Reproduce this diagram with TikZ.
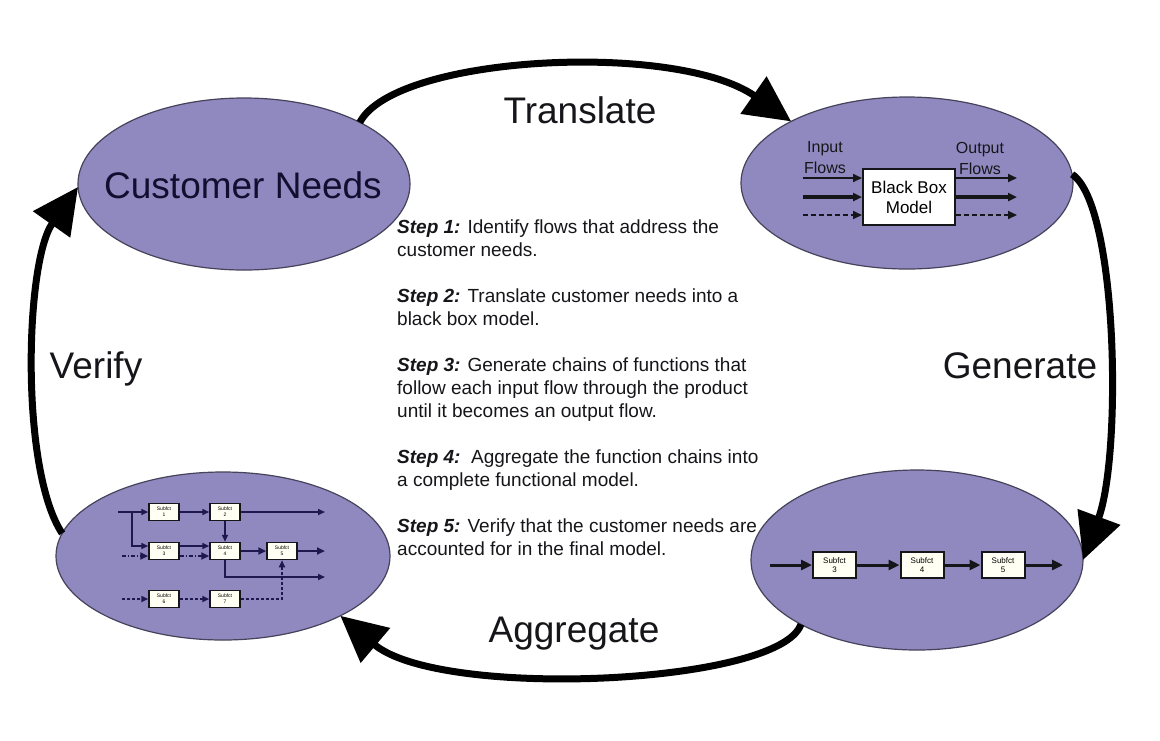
\documentclass[tikz,border=0pt]{standalone}
\usepackage{fontspec}
\setmainfont{Liberation Sans}
\usetikzlibrary{arrows.meta,shapes.geometric}
\definecolor{bubblefill}{RGB}{144,137,192}
\definecolor{bubbleline}{RGB}{70,66,90}
\definecolor{ink}{RGB}{22,22,26}
\definecolor{navy}{RGB}{30,24,80}
\definecolor{boxfill}{RGB}{255,255,244}

\begin{document}
\begin{tikzpicture}[x=1pt,y=-1pt,
  bubble/.style={ellipse, draw=bubbleline, line width=1.2pt, fill=bubblefill,
    inner sep=0pt, outer sep=0pt},
  cyclearrow/.style={line width=7pt, draw=black, -{Triangle[length=46pt,width=44pt]}},
  biglabel/.style={font=\fontsize{37}{44}\selectfont, text=ink, inner sep=0pt, anchor=base},
  steptext/.style={font=\fontsize{19}{23}\selectfont, text=ink, inner sep=0pt,
    align=left, anchor=north west},
  flowlabel/.style={font=\fontsize{16}{21}\selectfont, text=ink, inner sep=0pt, align=center},
  blackbox/.style={draw=ink, line width=2pt, fill=white, minimum width=92pt,
    minimum height=56pt, inner sep=0pt, align=center, font=\fontsize{17}{20}\selectfont},
  bbflow/.style={draw=ink, -{Triangle[length=9pt,width=8pt]}},
  chainbox/.style={draw=ink, line width=2pt, fill=boxfill, minimum width=43pt,
    minimum height=26pt, inner sep=0pt, align=center, font=\fontsize{8}{9}\selectfont},
  chainflow/.style={draw=ink, line width=3pt, -{Triangle[length=11pt,width=10pt]}},
  fnbox/.style={draw=ink, line width=1.5pt, fill=boxfill, minimum width=30pt,
    minimum height=17pt, inner sep=0pt, align=center, font=\fontsize{5}{6}\selectfont},
  fnflow/.style={draw=navy, line width=1.6pt, -{Triangle[length=7pt,width=6pt]}},
  fnthick/.style={draw=navy, line width=2.6pt, -{Triangle[length=8pt,width=7pt]}},
  fndashdot/.style={draw=navy, line width=2.6pt, dash pattern=on 4pt off 2pt on 1pt off 2pt,
    -{Triangle[length=8pt,width=7pt]}},
  fndashed/.style={draw=navy, line width=1.6pt, dash pattern=on 3pt off 2pt,
    -{Triangle[length=7pt,width=6pt]}}
]
\useasboundingbox[fill=white] (0,0) rectangle (1160,740);

% the four stages
\node[bubble, minimum width=332pt, minimum height=172pt] (cn) at (244,184) {};
\node[bubble, minimum width=332pt, minimum height=172pt] (bb) at (907,183) {};
\node[bubble, minimum width=332pt, minimum height=180pt] (br) at (917,560) {};
\node[bubble, minimum width=334pt, minimum height=168pt] (bl) at (223,556) {};

\node[biglabel, text=navy!60!black] (cntext) at (243,198) {Customer Needs};

% cycle connectors
\draw[cyclearrow] (cn.28) .. controls (395,55) and (676,41) .. (bb.152);
\draw[cyclearrow] (bb.3) .. controls (1118,205) and (1122,455) .. (br.east);
\draw[cyclearrow] (br.209) .. controls (780,685) and (440,700) .. (bl.333);
\draw[cyclearrow] (bl.172) .. controls (20,470) and (25,262) .. (cn.181);

\node[biglabel] (translate) at (580,123) {Translate};
\node[biglabel] (generate) at (1020,378) {Generate};
\node[biglabel] (aggregate) at (574,642) {Aggregate};
\node[biglabel] (verify) at (96,378) {Verify};

% step list
\node[steptext] (steps) at (397,220) {%
\textbf{\textit{Step 1:}} Identify flows that address the\\
customer needs.\\[23pt]
\textbf{\textit{Step 2:}} Translate customer needs into a\\
black box model.\\[23pt]
\textbf{\textit{Step 3:}} Generate chains of functions that\\
follow each input flow through the product\\
until it becomes an output flow.\\[23pt]
\textbf{\textit{Step 4:}}\ \ Aggregate the function chains into\\
a complete functional model.\\[23pt]
\textbf{\textit{Step 5:}} Verify that the customer needs are\\
accounted for in the final model.};

% black box model
\node[blackbox] (blk) at (909,197) {Black Box\\Model};
\node[flowlabel] (inlbl) at (825,158) {Input\\Flows};
\node[flowlabel] (outlbl) at (980,158) {Output\\Flows};
\coordinate (in1) at (803,178);
\coordinate (in2) at (803,197);
\coordinate (in3) at (803,215);
\coordinate (out1) at (1017,178);
\coordinate (out2) at (1017,197);
\coordinate (out3) at (1017,215);
\draw[bbflow, line width=1.8pt] (in1) -- (blk.west |- in1);
\draw[bbflow, line width=3.5pt] (in2) -- (blk.west |- in2);
\draw[bbflow, line width=2pt, dash pattern=on 5pt off 3pt] (in3) -- (blk.west |- in3);
\draw[bbflow, line width=1.8pt] (blk.east |- out1) -- (out1);
\draw[bbflow, line width=3.5pt] (blk.east |- out2) -- (out2);
\draw[bbflow, line width=2pt, dash pattern=on 5pt off 3pt] (blk.east |- out3) -- (out3);

% one function chain
\node[chainbox] (s3) at (834.5,565) {Subfct\\3};
\node[chainbox] (s4) at (922,565) {Subfct\\4};
\node[chainbox] (s5) at (1003,565) {Subfct\\5};
\coordinate (chin) at (770,565);
\coordinate (chout) at (1063,565);
\draw[chainflow] (chin) -- (s3);
\draw[chainflow] (s3) -- (s4);
\draw[chainflow] (s4) -- (s5);
\draw[chainflow] (s5) -- (chout);

% aggregated functional model
\node[fnbox] (f1) at (164,512) {Subfct\\1};
\node[fnbox] (f2) at (225,512) {Subfct\\2};
\node[fnbox] (f3) at (164,551) {Subfct\\3};
\node[fnbox] (f4) at (225,551) {Subfct\\4};
\node[fnbox] (f5) at (282,551) {Subfct\\5};
\node[fnbox] (f6) at (164,599) {Subfct\\6};
\node[fnbox] (f7) at (225,599) {Subfct\\7};
\coordinate (r1in) at (118,512);
\coordinate (r1out) at (325,512);
\coordinate (branch) at (132,512);
\coordinate (r2in) at (122,556);
\coordinate (r2out) at (325,551);
\coordinate (r4out) at (325,577);
\coordinate (r3in) at (122,599);

\draw[fnflow] (r1in) -- (f1);
\draw[fnflow] (f1) -- (f2);
\draw[fnflow] (f2) -- (r1out);
\draw[fnflow] (branch) |- ([yshift=5pt]f3.west);
\draw[fndashdot] (r2in) -- ([yshift=-5pt]f3.west);
\draw[fnflow] ([yshift=5pt]f3.east) -- ([yshift=5pt]f4.west);
\draw[fndashdot] ([yshift=-5pt]f3.east) -- ([yshift=-5pt]f4.west);
\draw[fnflow] (f2) -- (f4);
\draw[fnthick] (f4) -- (f5);
\draw[fnthick] (f5) -- (r2out);
\draw[fnflow] (f4.south) |- (r4out);
\draw[fndashed] (r3in) -- (f6);
\draw[fndashed] (f6) -- (f7);
\draw[fndashed] (f7.east) -| (f5.south);
\end{tikzpicture}
\end{document}
